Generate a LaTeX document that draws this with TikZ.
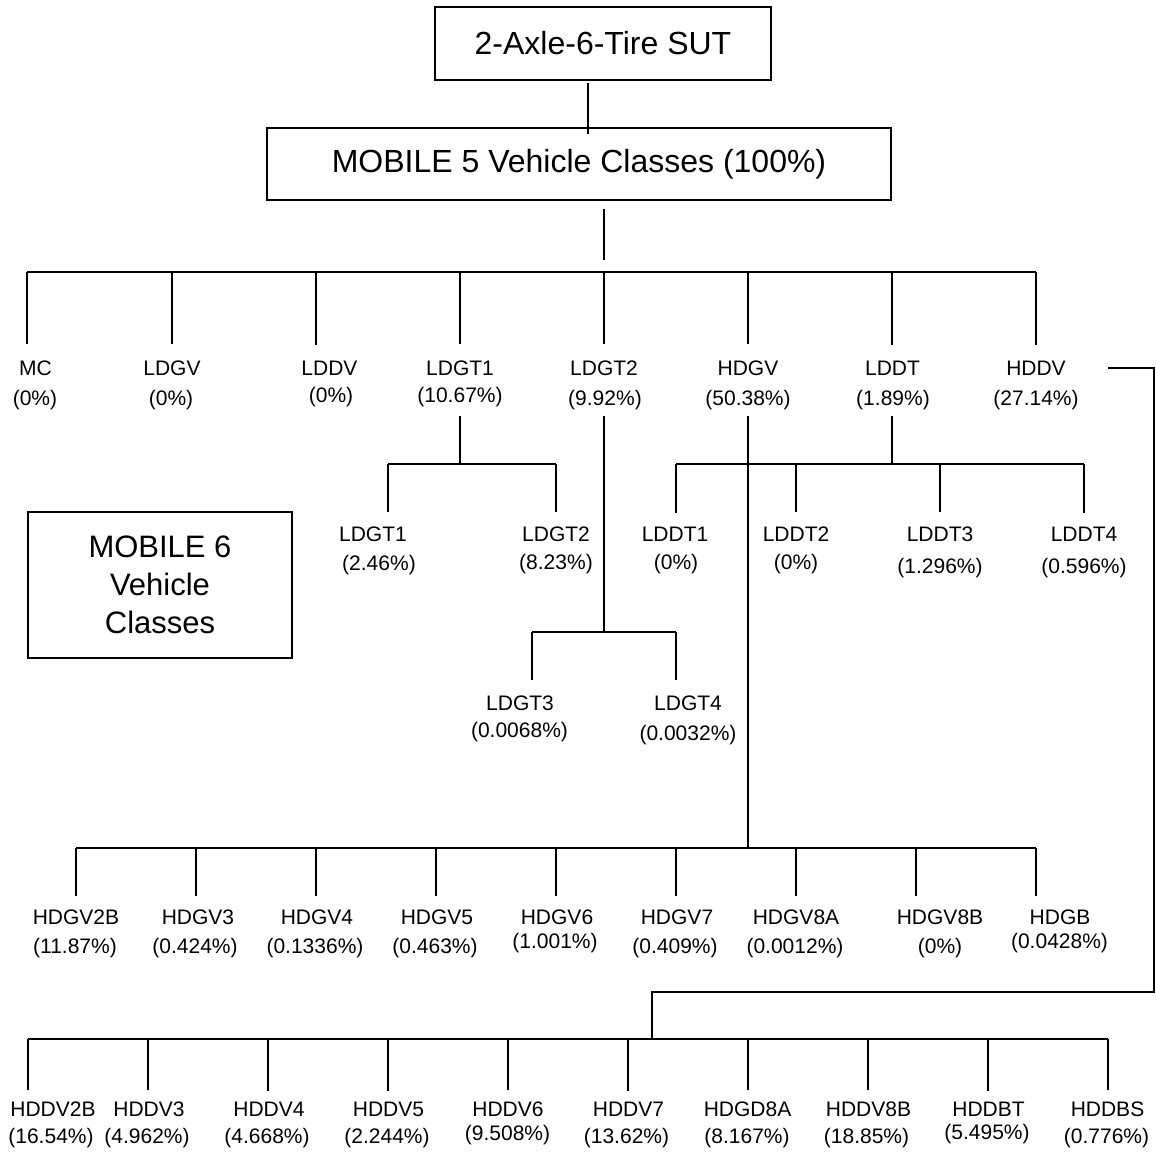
\documentclass[tikz,border=0pt]{standalone}
\usepackage{fontspec}
\setmainfont{Liberation Sans}
\tikzset{
  ln/.style={line width=1.8pt},
  lbl/.style={inner sep=0pt, outer sep=0pt, font=\fontsize{21}{25}\selectfont, anchor=base},
  bigbox/.style={draw, line width=1.8pt, inner sep=0pt, outer sep=0pt, font=\fontsize{32}{38}\selectfont},
}
% label: name, x1, y1, text, x2, y2, percentage
\newcommand\mkleaf[7]{%
  \node[lbl] (#1) at (#2,#3) {#4};
  \node[lbl] (#1p) at (#5,#6) {#7};}
% drop: junction name, x, bus y, label node, gap
\newcommand\mkdrop[5]{%
  \coordinate (#1) at (#2,#3);
  \draw[ln, shorten >=#5pt] (#1) -- (#1 |- #4.north);}
\begin{document}
\begin{tikzpicture}[x=1pt,y=-1pt]
\useasboundingbox (0,0) rectangle (1156,1151);
% boxes
\node[bigbox, minimum width=336pt, minimum height=73pt] (top) at (603,43.5) {2-Axle-6-Tire SUT};
\node[bigbox, minimum width=624pt, minimum height=72pt] (m5) at (579,164) {MOBILE 5 Vehicle Classes (100\%)};
\node[bigbox, minimum width=264pt, minimum height=146pt, align=center, font=\fontsize{31}{38}\selectfont] (m6) at (160,585) {MOBILE 6\\Vehicle\\Classes};
% connectors between boxes
\coordinate (topin) at (588,134);
\draw[ln] ([yshift=-3pt]top.south -| topin) -- (topin);
\coordinate (m5out) at (604,260);
\draw[ln] ([yshift=-9pt]m5.south -| m5out) -- (m5out);

% ---------- MOBILE 5 classes ----------
\mkleaf{MC}{35.5}{375.5}{MC}{35}{405.5}{(0\%)}
\mkleaf{LDGV}{172}{375.5}{LDGV}{171}{405.5}{(0\%)}
\mkleaf{LDDV}{329.5}{375.5}{LDDV}{331}{402}{(0\%)}
\mkleaf{LDGTa}{460}{375.5}{LDGT1}{460}{402}{(10.67\%)}
\mkleaf{LDGTb}{604}{375}{LDGT2}{605}{405.5}{(9.92\%)}
\mkleaf{HDGV}{748}{375}{HDGV}{748}{405.5}{(50.38\%)}
\mkleaf{LDDT}{892.5}{375}{LDDT}{893}{405.5}{(1.89\%)}
\mkleaf{HDDV}{1036}{375}{HDDV}{1036}{405.5}{(27.14\%)}
\mkdrop{jMC}{27}{272}{MC}{16.5}
\mkdrop{jLDGV}{172}{272}{LDGV}{16.5}
\mkdrop{jLDDV}{316}{272}{LDDV}{16.5}
\mkdrop{jLDGTa}{460}{272}{LDGTa}{16.5}
\mkdrop{jLDGTb}{604}{272}{LDGTb}{16}
\mkdrop{jHDGV}{748}{272}{HDGV}{16}
\mkdrop{jLDDT}{892}{272}{LDDT}{16}
\mkdrop{jHDDV}{1036}{272}{HDDV}{16}
\draw[ln] (jMC) -- (jHDDV);

% ---------- LDGT1 split ----------
\coordinate (vLDGTa) at (460,416);
\coordinate (pLDGTa) at (460,464);
\draw[ln] (vLDGTa) -- (pLDGTa);
\mkleaf{LDGT1}{373}{541.5}{LDGT1}{379}{570}{(2.46\%)}
\mkleaf{LDGT2}{556}{541.5}{LDGT2}{556}{569}{(8.23\%)}
\mkdrop{jLDGT1}{388}{464}{LDGT1}{14.5}
\mkdrop{jLDGT2}{556}{464}{LDGT2}{14.5}
\draw[ln] (jLDGT1) -- (jLDGT2);

% ---------- LDDT split ----------
\coordinate (vLDDT) at (892,416);
\coordinate (pLDDT) at (892,464);
\draw[ln] (vLDDT) -- (pLDDT);
\mkleaf{LDDT1}{675}{541.5}{LDDT1}{676}{569}{(0\%)}
\mkleaf{LDDT2}{796}{541.5}{LDDT2}{796}{569}{(0\%)}
\mkleaf{LDDT3}{940}{541.5}{LDDT3}{940}{573}{(1.296\%)}
\mkleaf{LDDT4}{1084}{541.5}{LDDT4}{1084}{573}{(0.596\%)}
\mkdrop{jLDDT1}{676}{464}{LDDT1}{14.5}
\mkdrop{jLDDT2}{796}{464}{LDDT2}{14.5}
\mkdrop{jLDDT3}{940}{464}{LDDT3}{14.5}
\mkdrop{jLDDT4}{1084}{464}{LDDT4}{14.5}
\draw[ln] (jLDDT1) -- (jLDDT4);

% ---------- LDGT2 split ----------
\coordinate (vLDGTb) at (604,416);
\coordinate (pLDGTb) at (604,632);
\draw[ln] (vLDGTb) -- (pLDGTb);
\mkleaf{LDGT3}{520}{710}{LDGT3}{519.5}{737}{(0.0068\%)}
\mkleaf{LDGT4}{688}{710}{LDGT4}{688}{740.5}{(0.0032\%)}
\mkdrop{jLDGT3}{532}{632}{LDGT3}{15}
\mkdrop{jLDGT4}{676}{632}{LDGT4}{15}
\draw[ln] (jLDGT3) -- (jLDGT4);

% ---------- HDGV split ----------
\coordinate (vHDGV) at (748,416);
\coordinate (pHDGV) at (748,848);
\draw[ln] (vHDGV) -- (pHDGV);
\mkleaf{HDGVtwoB}{76}{924.3}{HDGV2B}{75}{953.6}{(11.87\%)}
\mkleaf{HDGVthree}{198}{924.3}{HDGV3}{195}{953.6}{(0.424\%)}
\mkleaf{HDGVfour}{317}{924.3}{HDGV4}{315}{953.6}{(0.1336\%)}
\mkleaf{HDGVfive}{437}{924.3}{HDGV5}{435}{953.6}{(0.463\%)}
\mkleaf{HDGVsix}{557}{924.3}{HDGV6}{555}{948}{(1.001\%)}
\mkleaf{HDGVseven}{677}{924.3}{HDGV7}{675}{953.6}{(0.409\%)}
\mkleaf{HDGVeightA}{796}{924.3}{HDGV8A}{795}{953.6}{(0.0012\%)}
\mkleaf{HDGVeightB}{940}{924.3}{HDGV8B}{940}{953.6}{(0\%)}
\mkleaf{HDGB}{1060}{924.3}{HDGB}{1059.5}{948.6}{(0.0428\%)}
\mkdrop{jHDGVtwoB}{76}{848}{HDGVtwoB}{13.3}
\mkdrop{jHDGVthree}{196}{848}{HDGVthree}{13.3}
\mkdrop{jHDGVfour}{316}{848}{HDGVfour}{13.3}
\mkdrop{jHDGVfive}{436}{848}{HDGVfive}{13.3}
\mkdrop{jHDGVsix}{556}{848}{HDGVsix}{13.3}
\mkdrop{jHDGVseven}{676}{848}{HDGVseven}{13.3}
\mkdrop{jHDGVeightA}{796}{848}{HDGVeightA}{13.3}
\mkdrop{jHDGVeightB}{916}{848}{HDGVeightB}{13.3}
\mkdrop{jHDGB}{1036}{848}{HDGB}{13.3}
\draw[ln] (jHDGVtwoB) -- (jHDGB);

% ---------- HDDV split ----------
\coordinate (hddvout) at (1108,368);
\coordinate (hddvright) at (1154,992);
\coordinate (pHDDV) at (652,1039);
\draw[ln] (hddvout) -| (hddvright) -| (pHDDV);
\mkleaf{HDDVtwoB}{53}{1116}{HDDV2B}{51}{1143.7}{(16.54\%)}
\mkleaf{HDDVthree}{149}{1116}{HDDV3}{147}{1143.7}{(4.962\%)}
\mkleaf{HDDVfour}{269}{1116}{HDDV4}{267}{1143.7}{(4.668\%)}
\mkleaf{HDDVfive}{388.5}{1116}{HDDV5}{387}{1143.7}{(2.244\%)}
\mkleaf{HDDVsix}{508}{1116}{HDDV6}{507.5}{1140.6}{(9.508\%)}
\mkleaf{HDDVseven}{628.5}{1116}{HDDV7}{626.5}{1143.7}{(13.62\%)}
\mkleaf{HDGDeightA}{747.5}{1116}{HDGD8A}{747}{1143.7}{(8.167\%)}
\mkleaf{HDDVeightB}{868.5}{1116}{HDDV8B}{866.5}{1143.7}{(18.85\%)}
\mkleaf{HDDBT}{988.5}{1116}{HDDBT}{987}{1139}{(5.495\%)}
\mkleaf{HDDBS}{1107.5}{1116}{HDDBS}{1106.5}{1143.7}{(0.776\%)}
\mkdrop{jHDDVtwoB}{28}{1039}{HDDVtwoB}{11}
\mkdrop{jHDDVthree}{148}{1039}{HDDVthree}{11}
\mkdrop{jHDDVfour}{268}{1039}{HDDVfour}{11}
\mkdrop{jHDDVfive}{388}{1039}{HDDVfive}{11}
\mkdrop{jHDDVsix}{508}{1039}{HDDVsix}{11}
\mkdrop{jHDDVseven}{628}{1039}{HDDVseven}{11}
\mkdrop{jHDGDeightA}{748}{1039}{HDGDeightA}{11}
\mkdrop{jHDDVeightB}{868}{1039}{HDDVeightB}{11}
\mkdrop{jHDDBT}{988}{1039}{HDDBT}{11}
\mkdrop{jHDDBS}{1108}{1039}{HDDBS}{11}
\draw[ln] (jHDDVtwoB) -- (jHDDBS);
\end{tikzpicture}
\end{document}
